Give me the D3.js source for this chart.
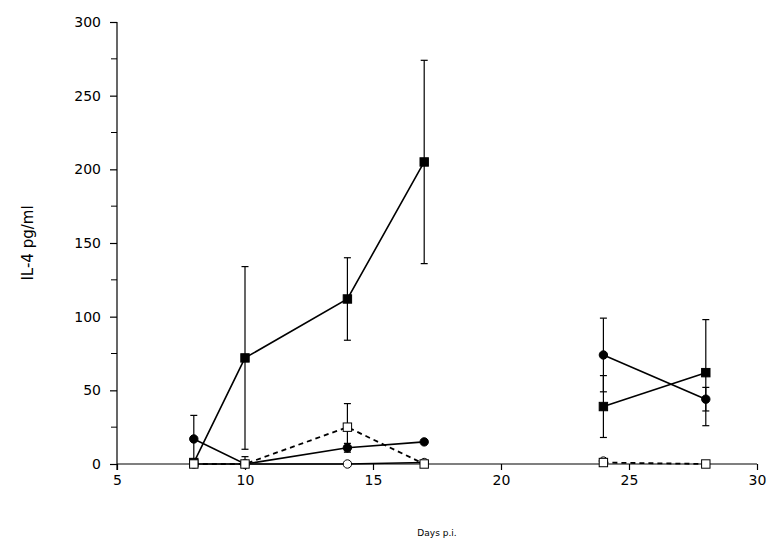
<!doctype html>
<html>
<head>
    <script src="https://d3js.org/d3.v7.min.js"></script>
    <style>
        body { margin: 0; background: #fff; }
        text { font-family: "DejaVu Sans", Verdana, sans-serif; }
    </style>
</head>
<body>
<script>
// days post infection and IL-4 readings (pg/ml)
var days = [8, 10, 14, 17, 24, 28];
var segments = [[0, 1, 2, 3], [4, 5]]; // no line across the 17 -> 24 gap

var filledSquare = [1, 72, 112, 205, 39, 62];
var filledSquareErr = [0, 62, 28, 69, 21, 36];
var filledCircle = [17, 0, 11, 15, 74, 44];
var filledCircleErr = [16, 5, 3, 0, 25, 8];
var openSquare = [0, 0, 25, 0, 1, 0];
var openSquareErr = [0, 0, 16, 0, 0, 0];
var openCircle = [0, 0, 0, 1, 2, null];
var openCircleErr = [0, 0, 0, 0, 0, 0];

var xTicks = [5, 10, 15, 20, 25, 30];
var yTicks = [0, 50, 100, 150, 200, 250, 300];
var yMinor = [25, 75, 125, 175, 225, 275];

var svg = d3.select("body").append("svg")
    .attr("width", 779).attr("height", 558);

var x = d3.scaleLinear().domain([5, 30]).range([117, 757]);
var y = d3.scaleLinear().domain([0, 300]).range([464, 22]);

// axes
var xAxis = d3.axisBottom(x).tickValues(xTicks).tickSize(6).tickPadding(5);
var gx = svg.append("g").attr("transform", "translate(0,464)").call(xAxis);
gx.select(".domain").attr("d", "M117,0H757");
gx.selectAll("text").attr("font-size", 14).attr("font-family", "DejaVu Sans");

var yAxis = d3.axisLeft(y).tickValues(yTicks).tickSize(7).tickPadding(9);
var gy = svg.append("g").attr("transform", "translate(117,0)").call(yAxis);
gy.select(".domain").attr("d", "M0,22V470");
gy.selectAll("text").attr("font-size", 14).attr("font-family", "DejaVu Sans");
gy.selectAll(".minor").data(yMinor).enter().append("line")
    .attr("x1", -6).attr("x2", 0)
    .attr("y1", function(d) { return y(d); })
    .attr("y2", function(d) { return y(d); })
    .attr("stroke", "#000");

svg.selectAll(".domain, .tick line").attr("stroke", "#000").attr("stroke-width", 1.2);

svg.append("text")
    .attr("transform", "translate(33,243) rotate(-90)")
    .attr("text-anchor", "middle")
    .attr("font-size", 15)
    .text("IL-4 pg/ml");

svg.append("text")
    .attr("x", 437).attr("y", 536)
    .attr("text-anchor", "middle")
    .attr("font-size", 9)
    .text("Days p.i.");

// drawing order: filled marks below, open marks on top
var series = [
    { vals: filledSquare, err: filledSquareErr, shape: "square", fill: "#000", dash: null },
    { vals: filledCircle, err: filledCircleErr, shape: "circle", fill: "#000", dash: null },
    { vals: openCircle, err: openCircleErr, shape: "circle", fill: "#fff", dash: null },
    { vals: openSquare, err: openSquareErr, shape: "square", fill: "#fff", dash: "5,4" }
];

var line = d3.line()
    .x(function(i) { return x(days[i]); });

// error bars first, then lines, then markers
series.forEach(function(s) {
    var g = svg.append("g");
    days.forEach(function(d, i) {
        if (!s.err[i]) return;
        var cx = x(d), hi = y(s.vals[i] + s.err[i]), lo = y(Math.max(0, s.vals[i] - s.err[i]));
        g.append("line").attr("x1", cx).attr("x2", cx).attr("y1", hi).attr("y2", lo)
            .attr("stroke", "#000").attr("stroke-width", 1.2);
        g.append("line").attr("x1", cx - 3.5).attr("x2", cx + 3.5).attr("y1", hi).attr("y2", hi)
            .attr("stroke", "#000").attr("stroke-width", 1.2);
        if (s.vals[i] - s.err[i] > 0)
            g.append("line").attr("x1", cx - 3.5).attr("x2", cx + 3.5).attr("y1", lo).attr("y2", lo)
                .attr("stroke", "#000").attr("stroke-width", 1.2);
    });
});

series.forEach(function(s) {
    line.y(function(i) { return y(s.vals[i]); })
        .defined(function(i) { return s.vals[i] != null; });
    segments.forEach(function(seg) {
        svg.append("path")
            .attr("d", line(seg))
            .attr("fill", "none")
            .attr("stroke", "#000")
            .attr("stroke-width", s.dash ? 1.8 : 1.6)
            .attr("stroke-dasharray", s.dash);
    });
});

series.forEach(function(s) {
    var g = svg.append("g");
    days.forEach(function(d, i) {
        if (s.vals[i] == null) return;
        var cx = x(d), cy = y(s.vals[i]);
        if (s.shape == "circle")
            g.append("circle").attr("cx", cx).attr("cy", cy).attr("r", 4.2)
                .attr("fill", s.fill).attr("stroke", "#000").attr("stroke-width", 1);
        else
            g.append("rect").attr("x", cx - 4.2).attr("y", cy - 4.2)
                .attr("width", 8.4).attr("height", 8.4)
                .attr("fill", s.fill).attr("stroke", "#000").attr("stroke-width", 1);
    });
});
</script>
</body>
</html>
